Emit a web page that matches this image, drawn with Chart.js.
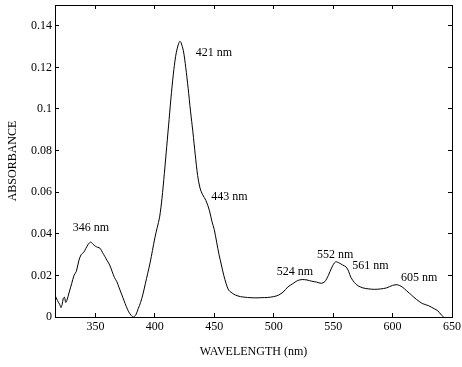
<!DOCTYPE html>
<html>
<head>
<meta charset="utf-8">
<script src="https://cdn.jsdelivr.net/npm/chart.js@4"></script>
<style>
  html, body { margin: 0; padding: 0; background: #fff; }
  #wrap { width: 462px; height: 367px; }
</style>
</head>
<body>
<div id="wrap"><canvas id="spectrum"></canvas></div>
<script>
// spectrum
const wavelength = [316, 318, 320, 321, 322, 323, 324, 325, 326, 328, 330, 332, 334, 336, 338, 340, 342, 344, 346, 348, 350, 352, 354, 356, 358, 360, 362, 364, 366, 368, 370, 372, 374, 376, 378, 380, 382, 384, 386, 388, 390, 392, 394, 396, 398, 400, 402, 404, 406, 408, 410, 412, 414, 416, 418, 420, 421, 422, 424, 426, 428, 430, 432, 434, 436, 438, 440, 443, 446, 448, 450, 452, 454, 456, 458, 460, 462, 465, 468, 472, 476, 480, 485, 490, 495, 500, 504, 508, 512, 516, 520, 524, 528, 532, 536, 540, 543, 546, 549, 552, 555, 558, 561, 563, 565, 568, 571, 575, 580, 585, 590, 595, 600, 604, 608, 612, 616, 620, 625, 630, 635, 638, 641, 643];
const absorbance = [0.0105, 0.008, 0.006, 0.0045, 0.006, 0.009, 0.0095, 0.007, 0.008, 0.012, 0.016, 0.020, 0.022, 0.027, 0.030, 0.031, 0.033, 0.035, 0.036, 0.035, 0.034, 0.0335, 0.033, 0.031, 0.029, 0.027, 0.025, 0.022, 0.019, 0.017, 0.014, 0.011, 0.008, 0.005, 0.0025, 0.0008, 0, 0.001, 0.004, 0.007, 0.011, 0.016, 0.021, 0.026, 0.032, 0.038, 0.043, 0.048, 0.057, 0.069, 0.082, 0.095, 0.108, 0.119, 0.127, 0.1315, 0.1325, 0.132, 0.128, 0.120, 0.110, 0.099, 0.089, 0.078, 0.068, 0.062, 0.059, 0.056, 0.051, 0.046, 0.042, 0.036, 0.030, 0.025, 0.020, 0.016, 0.013, 0.0115, 0.0105, 0.0098, 0.0095, 0.0093, 0.0092, 0.0093, 0.0094, 0.0098, 0.0105, 0.012, 0.0145, 0.016, 0.0175, 0.018, 0.0178, 0.0172, 0.0168, 0.0162, 0.017, 0.020, 0.024, 0.0265, 0.026, 0.025, 0.024, 0.022, 0.019, 0.0165, 0.015, 0.014, 0.0135, 0.0133, 0.0135, 0.014, 0.0152, 0.0155, 0.0145, 0.0125, 0.0105, 0.0085, 0.0065, 0.0055, 0.004, 0.003, 0.001, 0];

const xTicks = [350, 400, 450, 500, 550, 600, 650];
const yTicks = [0, 0.02, 0.04, 0.06, 0.08, 0.1, 0.12, 0.14];

// peak annotations: text and where its left edge sits (nm, absorbance)
const peakText = ["346 nm", "421 nm", "443 nm", "524 nm", "552 nm", "561 nm", "605 nm"];
const peakAtNm = [331, 434.5, 447.5, 502.5, 536.5, 566, 607];
const peakAtAbs = [0.0429, 0.1269, 0.0577, 0.0218, 0.0298, 0.0245, 0.0189];

const serif = "'Liberation Serif', 'DejaVu Serif', serif";

const peakLabels = {
  id: "peakLabels",
  afterDatasetsDraw(chart) {
    const { ctx, scales } = chart;
    ctx.save();
    ctx.fillStyle = "#000";
    ctx.font = "12px " + serif;
    ctx.textAlign = "left";
    ctx.textBaseline = "middle";
    peakText.forEach((t, i) => {
      ctx.fillText(t, scales.x.getPixelForValue(peakAtNm[i]), scales.y.getPixelForValue(peakAtAbs[i]));
    });
    ctx.restore();
  },
};

// fixed box sizes, no extra room asked for overhanging labels
function fixSize(w, h) {
  return (s) => {
    if (w != null) s.width = w;
    if (h != null) s.height = h;
    s.paddingLeft = s.paddingRight = s.paddingTop = s.paddingBottom = 0;
  };
}

// box axes with ticks pointing inward
const inwardGrid = { drawOnChartArea: false, color: "#000", tickLength: -4, lineWidth: 1 };
const blackBorder = { display: true, color: "#000", width: 1 };

new Chart(document.getElementById("spectrum"), {
  type: "line",
  data: {
    labels: wavelength,
    datasets: [
      {
        data: wavelength.map((w, i) => ({ x: w, y: absorbance[i] })),
        borderColor: "#000",
        borderWidth: 1,
        pointRadius: 0,
        tension: 0.3,
        fill: false,
      },
    ],
  },
  options: {
    responsive: true,
    maintainAspectRatio: false,
    animation: false,
    layout: { padding: 0 },
    plugins: { legend: { display: false }, tooltip: { enabled: false } },
    scales: {
      x: {
        type: "linear",
        position: "bottom",
        min: 316,
        max: 650,
        afterBuildTicks: (s) => { s.ticks = xTicks.map((v) => ({ value: v })); },
        afterFit: fixSize(null, 50),
        grid: inwardGrid,
        border: blackBorder,
        ticks: { color: "#000", font: { family: serif, size: 12 }, padding: 7, maxRotation: 0, callback: (v) => String(v) },
        title: { display: true, text: "WAVELENGTH (nm)", color: "#000", font: { family: serif, size: 12 }, padding: { top: 4, bottom: 8 } },
      },
      x2: {
        type: "linear",
        position: "top",
        min: 316,
        max: 650,
        afterBuildTicks: (s) => { s.ticks = xTicks.map((v) => ({ value: v })); },
        afterFit: fixSize(null, 5),
        grid: inwardGrid,
        border: blackBorder,
        ticks: { display: false },
      },
      y: {
        position: "left",
        min: 0,
        max: 0.15,
        afterBuildTicks: (s) => { s.ticks = yTicks.map((v) => ({ value: v })); },
        afterFit: fixSize(55, null),
        grid: inwardGrid,
        border: blackBorder,
        ticks: { color: "#000", font: { family: serif, size: 12 }, padding: 7, callback: (v) => String(v) },
        title: { display: true, text: "ABSORBANCE", color: "#000", font: { family: serif, size: 12 }, padding: { top: 6, bottom: 0 } },
      },
      y2: {
        position: "right",
        min: 0,
        max: 0.15,
        afterBuildTicks: (s) => { s.ticks = yTicks.map((v) => ({ value: v })); },
        afterFit: fixSize(10, null),
        grid: inwardGrid,
        border: blackBorder,
        ticks: { display: false },
      },
    },
  },
  plugins: [peakLabels],
});
</script>
</body>
</html>
